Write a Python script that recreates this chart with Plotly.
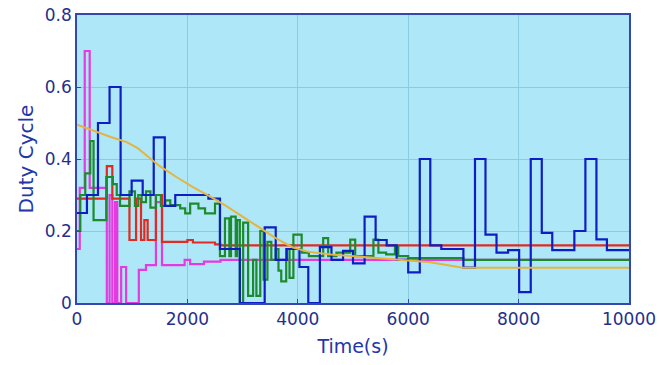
import plotly.graph_objects as go

# ---- data ----
blue_t = [0, 180, 380, 590, 790, 990, 1190, 1390, 1590, 1780, 2380, 2590, 2950, 3400, 3600,
          3800, 4030, 4190, 4400, 4610, 4820, 5000, 5210, 5410, 5610, 5790, 6000, 6210, 6400,
          6600, 7000, 7210, 7400, 7600, 7810, 8010, 8220, 8420, 8610, 9010, 9210, 9410, 9600]
blue_v = [0.25, 0.30, 0.50, 0.60, 0.30, 0.34, 0.30, 0.46, 0.27, 0.30, 0.29, 0.15, 0.0, 0.21, 0.12,
          0.15, 0.10, 0.0, 0.155, 0.12, 0.145, 0.11, 0.24, 0.175, 0.16, 0.12, 0.085, 0.40, 0.16,
          0.15, 0.098, 0.40, 0.19, 0.14, 0.147, 0.03, 0.40, 0.195, 0.147, 0.20, 0.40, 0.177, 0.147]

red_t = [0, 540, 640, 950, 1070, 1160, 1220, 1280, 1430, 1540, 2000, 2100, 2500, 2600]
red_v = [0.29, 0.38, 0.29, 0.175, 0.29, 0.175, 0.23, 0.175, 0.30, 0.17, 0.175, 0.168, 0.163, 0.16]

green_t = [0, 60, 150, 240, 300, 530, 650, 720, 780, 950, 1050, 1110, 1170, 1250, 1330, 1430,
           1520, 1600, 1690, 1870, 1960, 2050, 2200, 2320, 2500, 2590, 2680, 2760, 2790, 2875,
           2900, 2950, 3010, 3100, 3190, 3250, 3320, 3380, 3450, 3520, 3600, 3650, 3700, 3790,
           3850, 3920, 4070, 4200, 4460, 4550, 4700, 4950, 5040, 5370, 5460, 5600, 5760, 5820,
           6000, 7000]
green_v = [0.20, 0.30, 0.36, 0.45, 0.23, 0.35, 0.33, 0.30, 0.27, 0.31, 0.27, 0.30, 0.28, 0.31, 0.265, 0.30,
           0.27, 0.285, 0.272, 0.263, 0.249, 0.276, 0.263, 0.249, 0.276, 0.13, 0.235, 0.13, 0.24, 0.13,
           0.23, 0.0, 0.223, 0.02, 0.12, 0.02, 0.20, 0.065, 0.17, 0.12, 0.15, 0.09, 0.06, 0.15,
           0.07, 0.19, 0.14, 0.13, 0.18, 0.13, 0.14, 0.176, 0.13, 0.176, 0.14, 0.135, 0.156, 0.13,
           0.125, 0.12]

magenta_t = [0, 50, 140, 230, 540, 590, 640, 690, 730, 800, 890, 1120, 1250, 1430, 1540, 1950, 2050, 2300, 2600]
magenta_v = [0.15, 0.32, 0.70, 0.32, 0.0, 0.30, 0.0, 0.28, 0.0, 0.10, 0.0, 0.092, 0.105, 0.28, 0.105, 0.12, 0.108, 0.115, 0.12]

yellow_t = [0, 300, 600, 900, 1100, 1300, 1500, 1800, 2100, 2400, 2700, 3000, 3300, 3600, 3900,
            4200, 4600, 5000, 5500, 6000, 6400, 6800, 7000, 10000]
yellow_v = [0.495, 0.478, 0.462, 0.447, 0.43, 0.405, 0.38, 0.35, 0.322, 0.297, 0.27, 0.24, 0.21, 0.18, 0.155,
            0.142, 0.135, 0.13, 0.124, 0.118, 0.113, 0.103, 0.098, 0.098]

T_END = 10000
x_ticks = [0, 2000, 4000, 6000, 8000, 10000]
x_tick_text = ["0", "2000", "4000", "6000", "8000", "10000"]
y_ticks = [0, 0.2, 0.4, 0.6, 0.8]
y_tick_text = ["0", "0.2", "0.4", "0.6", "0.8"]

fig = go.Figure()

def step(t, v, color, width=2.2):
    fig.add_trace(go.Scatter(x=list(t) + [T_END], y=list(v) + [v[-1]], mode="lines",
                             line=dict(color=color, width=width, shape="hv"),
                             showlegend=False, hoverinfo="skip"))

step(magenta_t, magenta_v, "#e43ae0")
step(red_t, red_v, "#e02a22")
step(green_t, green_v, "#1e8a2e")
step(blue_t, blue_v, "#0d1fc4")
fig.add_trace(go.Scatter(x=yellow_t, y=yellow_v, mode="lines",
                         line=dict(color="#e4b440", width=2.0),
                         showlegend=False, hoverinfo="skip"))

axis_common = dict(showline=True, linecolor="#3446b0", linewidth=1.5, mirror=True,
                   ticks="inside", ticklen=4, tickcolor="#3446b0", automargin=False,
                   showgrid=True, gridcolor="#8ccae0", gridwidth=1, zeroline=False,
                   tickfont=dict(family="DejaVu Sans", size=17, color="#26308c"))

fig.update_xaxes(range=[0, T_END], tickvals=x_ticks, ticktext=x_tick_text, **axis_common,
                 title=dict(text="Time(s)", font=dict(family="DejaVu Sans", size=19, color="#2436a8"),
                            standoff=12))
fig.update_yaxes(range=[0, 0.8], tickvals=y_ticks, ticktext=y_tick_text, **axis_common,
                 title=dict(text="Duty Cycle", font=dict(family="DejaVu Sans", size=20, color="#2436a8"),
                            standoff=6))

fig.update_layout(width=659, height=365, margin=dict(l=77, r=30, t=15, b=62),
                  plot_bgcolor="#aee8f8", paper_bgcolor="white")

fig.write_html("out.html")
